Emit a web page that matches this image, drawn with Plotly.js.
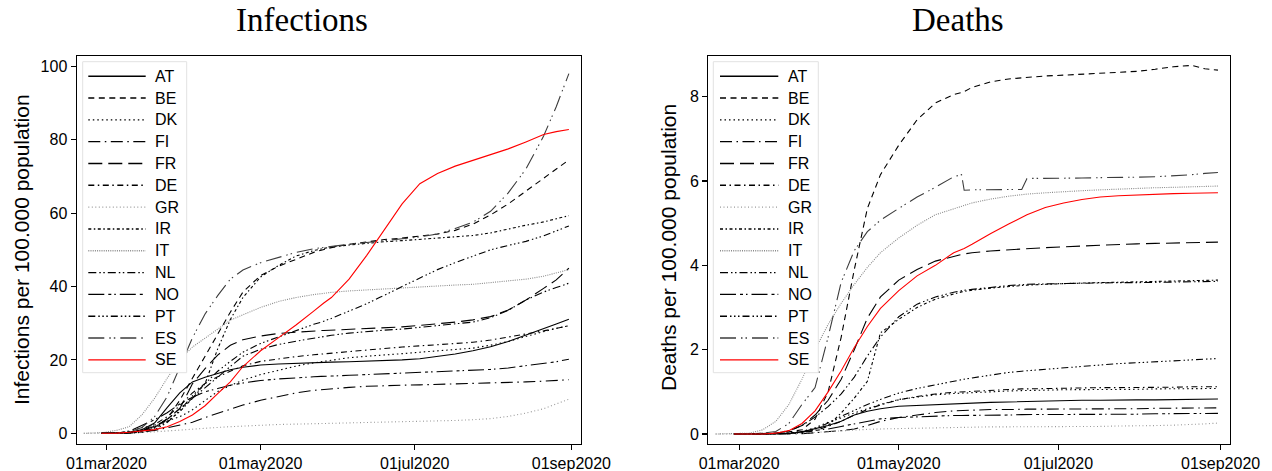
<!DOCTYPE html>
<html><head><meta charset="utf-8">
<script src="https://cdn.plot.ly/plotly-3.0.1.min.js"></script>
<style>html,body{margin:0;padding:0;background:#fff}#chart{width:1272px;height:471px}</style>
</head><body><div id="chart"></div>
<script>
// ---------- data ----------
const dates = ['2020-02-21','2020-02-28','2020-03-05','2020-03-10','2020-03-15','2020-03-20','2020-03-25','2020-03-30',
 '2020-04-04','2020-04-09','2020-04-14','2020-04-19','2020-04-24','2020-05-01','2020-05-08','2020-05-15','2020-05-22',
 '2020-05-25','2020-05-26','2020-05-29','2020-06-05','2020-06-12','2020-06-17','2020-06-19','2020-06-26','2020-07-03',
 '2020-07-10','2020-07-17','2020-07-24','2020-07-31','2020-08-07','2020-08-14','2020-08-21','2020-08-26','2020-08-31'];
const countries = ['AT','BE','DK','FI','FR','DE','GR','IR','IT','NL','NO','PT','ES','SE'];
const tickDates = ['2020-03-01','2020-05-01','2020-07-01','2020-09-01'];
const tickLabels = ['01mar2020','01may2020','01jul2020','01sep2020'];
const infTicks = [0,20,40,60,80,100];
const deathTicks = [0,2,4,6,8];

// Infections per 100.000 population
const infAT = [null,0,0.05,0.2,1.0,2.8,7,11,14,15.3,16.3,17.3,18.0,18.6,18.9,19.1,19.3,19.35,19.4,19.4,19.5,19.6,19.7,19.7,20.0,20.3,20.9,21.6,22.5,23.6,25.0,26.7,28.5,29.8,31.1];
const infBE = [null,0,0.05,0.2,0.6,1.6,4,9,15,21,27,33,38.5,43,45.5,47.5,49.3,49.9,50.1,50.6,51.5,52.2,52.6,52.8,53.2,53.7,54.3,55.3,57,59.5,62.5,66,69.5,72,74.5];
const infDK = [null,0,0.05,0.5,1.5,2.2,3.3,4.5,6.4,9.0,11.4,13,14.5,16,17.2,18.3,19.2,19.5,19.6,20.0,20.6,21.0,21.2,21.3,21.7,22.1,22.4,22.7,23.2,24.0,25.0,26.4,27.8,28.6,29.3];
const infFI = [null,0,0.02,0.1,0.4,0.8,1.5,2.2,3.0,4.3,5.5,6.6,7.7,9.0,10.1,11.0,11.7,11.9,12.0,12.2,12.5,12.8,12.95,13.0,13.1,13.2,13.3,13.4,13.5,13.6,13.8,14.0,14.2,14.4,14.6];
const infFR = [null,0,0.06,0.3,0.67,1.9,3.8,6.7,13.5,17.6,21.3,24,25.5,26.5,27.2,27.6,27.9,28.0,28.0,28.1,28.3,28.5,28.6,28.7,29.0,29.4,29.8,30.3,30.9,31.8,33.6,36.3,39.5,41.8,45.0];
const infDE = [null,0,0.02,0.2,0.7,2.4,4.5,7.5,11,13.6,15.4,17,18.4,19.6,20.3,20.9,21.4,21.6,21.7,21.9,22.3,22.7,23.0,23.1,23.5,23.8,24.1,24.4,24.8,25.4,26.2,27.0,27.9,28.6,29.3];
const infGR = [0,0,0,0.1,0.2,0.4,0.6,0.9,1.2,1.4,1.6,1.8,2.0,2.2,2.4,2.5,2.6,2.65,2.65,2.7,2.8,2.9,3.0,3.1,3.2,3.3,3.4,3.5,3.7,4.0,4.6,5.5,6.7,7.9,9.3];
const infIR = [null,0,0.02,0.07,0.4,1.4,3.2,5.9,9.5,13.5,23,31,37,42.6,45.7,48.3,49.8,50.2,50.4,50.8,51.3,51.8,52.1,52.2,52.5,52.8,53.1,53.4,53.9,54.6,55.7,56.7,57.6,58.4,59.3];
const infIT = [0,0.15,0.8,1.8,5,9.5,15,20,23.5,26,28.5,30.8,32.3,34.3,35.9,37.0,37.8,38.1,38.2,38.4,38.8,39.1,39.3,39.4,39.7,39.9,40.2,40.4,40.6,41.0,41.4,42.0,42.8,43.6,44.6];
const infNL = [null,0,0.02,0.2,0.65,1.7,3.7,6.8,9.5,12.5,15.3,18.2,21,22.9,24.2,25.1,25.9,26.3,26.4,26.7,27.3,27.8,28.0,28.1,28.4,28.9,29.3,29.7,30.3,31.5,33.5,36.3,38.5,39.7,40.9];
const infNO = [null,0,0.1,0.6,2.2,3.7,5.6,8.0,9.8,11.3,12.2,13.1,13.7,14.4,14.8,15.2,15.4,15.5,15.5,15.6,15.8,16.0,16.1,16.2,16.4,16.6,16.7,16.9,17.1,17.4,17.8,18.4,19.0,19.5,20.2];
const infPT = [null,0,0,0.04,0.24,1.0,2.9,6.2,10.2,13.5,16.9,19.6,22.1,24.5,26.3,27.9,29.7,30.3,30.5,31.3,33.3,35.3,37.0,37.6,40.0,42.3,44.6,46.5,48.3,50.0,51.2,52.3,53.8,55.2,56.5];
const infES = [null,0,0.05,0.4,1.6,4.5,10,18,26,32.5,37.5,42,44.5,46.5,48,49.3,50.3,50.6,50.7,51,51.5,52,52.3,52.5,53,53.5,54.3,55.8,57.5,60.5,65.5,72,81,89,98];
const infSE = [null,0,0.05,0.3,0.6,1.0,1.8,3.2,5.0,7.5,10.8,14,18.2,22.5,26,29.5,33.3,35,35.5,37,42,48.5,53.5,55.5,62.5,68,70.8,72.8,74.3,75.8,77.5,79.4,81.4,82.2,82.8];

// Deaths per 100.000 population
const deathAT = [null,0,0,0,0.001,0.01,0.05,0.12,0.2,0.3,0.45,0.54,0.6,0.66,0.68,0.7,0.72,0.73,0.73,0.74,0.75,0.76,0.77,0.77,0.78,0.79,0.8,0.8,0.81,0.81,0.81,0.82,0.82,0.82,0.83];
const deathBE = [null,0,0,0,0.01,0.05,0.1,0.35,1.0,2.3,3.9,5.35,6.15,6.85,7.45,7.85,8.05,8.1,8.12,8.22,8.35,8.42,8.45,8.46,8.49,8.51,8.53,8.55,8.57,8.6,8.65,8.71,8.74,8.66,8.63];
const deathDK = [null,0,0,0,0.002,0.02,0.06,0.15,0.28,0.38,0.5,0.6,0.7,0.82,0.88,0.93,0.96,0.97,0.98,0.99,1.0,1.02,1.03,1.03,1.04,1.05,1.05,1.06,1.06,1.06,1.07,1.07,1.08,1.08,1.08];
const deathFI = [null,0,0,0,0,0.002,0.01,0.03,0.05,0.08,0.12,0.2,0.3,0.39,0.45,0.51,0.55,0.56,0.56,0.57,0.58,0.58,0.59,0.59,0.59,0.59,0.6,0.6,0.6,0.6,0.61,0.61,0.61,0.61,0.62];
const deathFR = [null,0,0.001,0.005,0.02,0.07,0.2,0.45,0.8,1.3,2.0,2.75,3.25,3.65,3.9,4.1,4.22,4.26,4.27,4.3,4.34,4.37,4.39,4.4,4.42,4.44,4.46,4.48,4.5,4.51,4.52,4.53,4.54,4.55,4.55];
const deathDE = [null,0,0,0,0.001,0.01,0.03,0.08,0.18,0.3,0.45,0.58,0.69,0.81,0.89,0.95,0.99,1.0,1.01,1.02,1.04,1.06,1.07,1.07,1.08,1.09,1.09,1.1,1.1,1.1,1.11,1.11,1.12,1.12,1.12];
const deathGR = [0,0,0,0,0.001,0.005,0.02,0.04,0.06,0.08,0.1,0.11,0.12,0.13,0.14,0.15,0.16,0.16,0.16,0.16,0.17,0.17,0.17,0.17,0.18,0.18,0.18,0.18,0.19,0.19,0.2,0.21,0.22,0.24,0.26];
const deathIR = [null,0,0,0,0.005,0.02,0.06,0.13,0.2,0.5,0.85,1.25,2.4,2.72,3.0,3.2,3.33,3.37,3.38,3.41,3.46,3.5,3.52,3.53,3.55,3.57,3.58,3.59,3.6,3.61,3.62,3.63,3.64,3.64,3.65];
const deathIT = [0,0.005,0.02,0.1,0.3,0.7,1.3,2.0,2.6,3.1,3.55,3.95,4.3,4.65,4.95,5.2,5.35,5.4,5.42,5.48,5.57,5.64,5.68,5.69,5.72,5.75,5.77,5.79,5.81,5.82,5.84,5.85,5.86,5.87,5.88];
const deathNL = [null,0,0,0.005,0.02,0.08,0.2,0.4,0.65,0.95,1.35,1.85,2.3,2.78,3.08,3.25,3.36,3.4,3.41,3.43,3.48,3.52,3.54,3.55,3.56,3.57,3.58,3.58,3.59,3.59,3.6,3.6,3.61,3.61,3.62];
const deathNO = [null,0,0,0,0.005,0.02,0.05,0.09,0.12,0.18,0.24,0.3,0.36,0.39,0.41,0.43,0.44,0.44,0.44,0.44,0.45,0.45,0.46,0.46,0.46,0.46,0.47,0.47,0.47,0.47,0.48,0.48,0.48,0.49,0.49];
const deathPT = [null,0,0,0,0,0.01,0.04,0.12,0.26,0.42,0.56,0.7,0.82,0.97,1.08,1.17,1.26,1.29,1.3,1.33,1.4,1.46,1.49,1.5,1.54,1.58,1.61,1.64,1.67,1.69,1.71,1.73,1.75,1.77,1.79];
const deathES = [null,0,0,0.02,0.06,0.25,0.7,1.1,2.3,3.6,4.35,4.8,5.07,5.35,5.62,5.85,6.1,6.15,5.78,5.79,5.79,5.8,5.8,6.06,6.06,6.07,6.07,6.08,6.08,6.09,6.1,6.12,6.15,6.18,6.2];
const deathSE = [null,0,0,0,0.02,0.08,0.25,0.55,1.0,1.5,2.05,2.55,2.98,3.4,3.75,4.0,4.3,4.37,4.4,4.5,4.75,4.98,5.15,5.2,5.37,5.48,5.56,5.62,5.65,5.67,5.69,5.7,5.71,5.71,5.72];

const infSeries = [infAT,infBE,infDK,infFI,infFR,infDE,infGR,infIR,infIT,infNL,infNO,infPT,infES,infSE];
const deathSeries = [deathAT,deathBE,deathDK,deathFI,deathFR,deathDE,deathGR,deathIR,deathIT,deathNL,deathNO,deathPT,deathES,deathSE];

// ---------- styles ----------
const styles = [
  {color:'#000000', dash:'solid'},
  {color:'#000000', dash:'6px,4.5px'},
  {color:'#000000', dash:'1.5px,3px'},
  {color:'#000000', dash:'12px,4.5px,1.5px,4.5px'},
  {color:'#000000', dash:'14px,6px'},
  {color:'#000000', dash:'6px,3.5px,1.5px,3.5px'},
  {color:'#9a9a9a', dash:'1px,2.5px'},
  {color:'#000000', dash:'3px,2.5px,1.5px,2.5px'},
  {color:'#8a8a8a', dash:'1px,1.2px'},
  {color:'#000000', dash:'8px,3px,1.5px,2.5px,1.5px,3px'},
  {color:'#000000', dash:'16px,4px,3px,3px,1.5px,4px'},
  {color:'#000000', dash:'7px,3px,1.5px,2.5px,1.5px,2.5px,1.5px,3px'},
  {color:'#3c3c3c', dash:'16px,5px,1.5px,3px,1.5px,5px'},
  {color:'#ff0000', dash:'solid'}
];
const LW = 1.1;

const W = 1272, H = 471;
const px = v => v / W;
const py = v => 1 - v / H;

const traces = [];
countries.forEach((c, i) => {
  traces.push({x: dates, y: infSeries[i], xaxis:'x', yaxis:'y', type:'scatter', mode:'lines', name:c,
    showlegend:false, connectgaps:false, line:{color:styles[i].color, dash:styles[i].dash, width:LW}});
  traces.push({x: dates, y: deathSeries[i], xaxis:'x2', yaxis:'y2', type:'scatter', mode:'lines', name:c,
    showlegend:false, connectgaps:false, line:{color:styles[i].color, dash:styles[i].dash, width:LW}});
});

const xRange = ['2020-02-18 04:48','2020-09-04 14:24'];
const font = 'Liberation Sans, Arial, sans-serif';
const axX = (dom, anchor) => ({domain:dom, anchor:anchor, type:'date', range:xRange, tickvals:tickDates, ticktext:tickLabels,
  showline:true, mirror:true, linecolor:'#000', linewidth:1.2, ticks:'outside', ticklen:5, tickwidth:1.2, tickcolor:'#000',
  showgrid:false, zeroline:false, tickfont:{family:font, size:16, color:'#000'}, fixedrange:true});
const axY = (dom, anchor, range, tv) => ({domain:dom, anchor:anchor, range:range, tickvals:tv,
  showline:true, mirror:true, linecolor:'#000', linewidth:1.2, ticks:'outside', ticklen:5, tickwidth:1.2, tickcolor:'#000',
  showgrid:false, zeroline:false, tickfont:{family:font, size:16, color:'#000'}, fixedrange:true});

const yDom = [py(443.5), py(56)];

// legends drawn as boxes with sample lines
const shapes = [];
const annotations = [];
function legend(x0, x1, lx0, lx1, tx) {
  shapes.push({type:'rect', xref:'paper', yref:'paper', x0:px(x0), x1:px(x1), y0:py(372.7), y1:py(61.7),
    line:{color:'#e2e2e2', width:1}, fillcolor:'#ffffff', layer:'above'});
  countries.forEach((c, i) => {
    const y = 76.2 + i * 21.82;
    shapes.push({type:'line', xref:'paper', yref:'paper', x0:px(lx0), x1:px(lx1), y0:py(y), y1:py(y),
      line:{color:styles[i].color, dash:styles[i].dash, width:1.4}, layer:'above'});
    annotations.push({xref:'paper', yref:'paper', x:px(tx), y:py(y), text:c, showarrow:false,
      xanchor:'left', yanchor:'middle', font:{family:font, size:16, color:'#000'}});
  });
}
legend(82.7, 186.7, 88.3, 145.7, 153);
legend(713.3, 818.3, 720, 778.3, 785.5);

// titles
const serif = 'Liberation Serif, Times New Roman, serif';
annotations.push({xref:'paper', yref:'paper', x:px(302), y:py(20), text:'Infections', showarrow:false,
  xanchor:'center', yanchor:'middle', font:{family:serif, size:33, color:'#000'}});
annotations.push({xref:'paper', yref:'paper', x:px(958), y:py(20), text:'Deaths', showarrow:false,
  xanchor:'center', yanchor:'middle', font:{family:serif, size:33, color:'#000'}});
annotations.push({xref:'paper', yref:'paper', x:px(21), y:py(250), text:'Infections per 100.000 population', showarrow:false,
  textangle:-90, xanchor:'center', yanchor:'middle', font:{family:font, size:21, color:'#000'}});
annotations.push({xref:'paper', yref:'paper', x:px(668), y:py(248), text:'Deaths per 100.000 population', showarrow:false,
  textangle:-90, xanchor:'center', yanchor:'middle', font:{family:font, size:21, color:'#000'}});

const layout = {
  width:W, height:H, margin:{l:0,r:0,t:0,b:0}, paper_bgcolor:'#fff', plot_bgcolor:'#fff', showlegend:false,
  xaxis: axX([px(76.7), px(580.5)], 'y'),
  yaxis: axY(yDom, 'x', [-2.78, 102.81], infTicks),
  xaxis2: axX([px(708.3), px(1230)], 'y2'),
  yaxis2: axY(yDom, 'x2', [-0.225, 8.964], deathTicks),
  shapes: shapes, annotations: annotations
};
Plotly.newPlot('chart', traces, layout, {staticPlot:true, displayModeBar:false});
</script></body></html>
